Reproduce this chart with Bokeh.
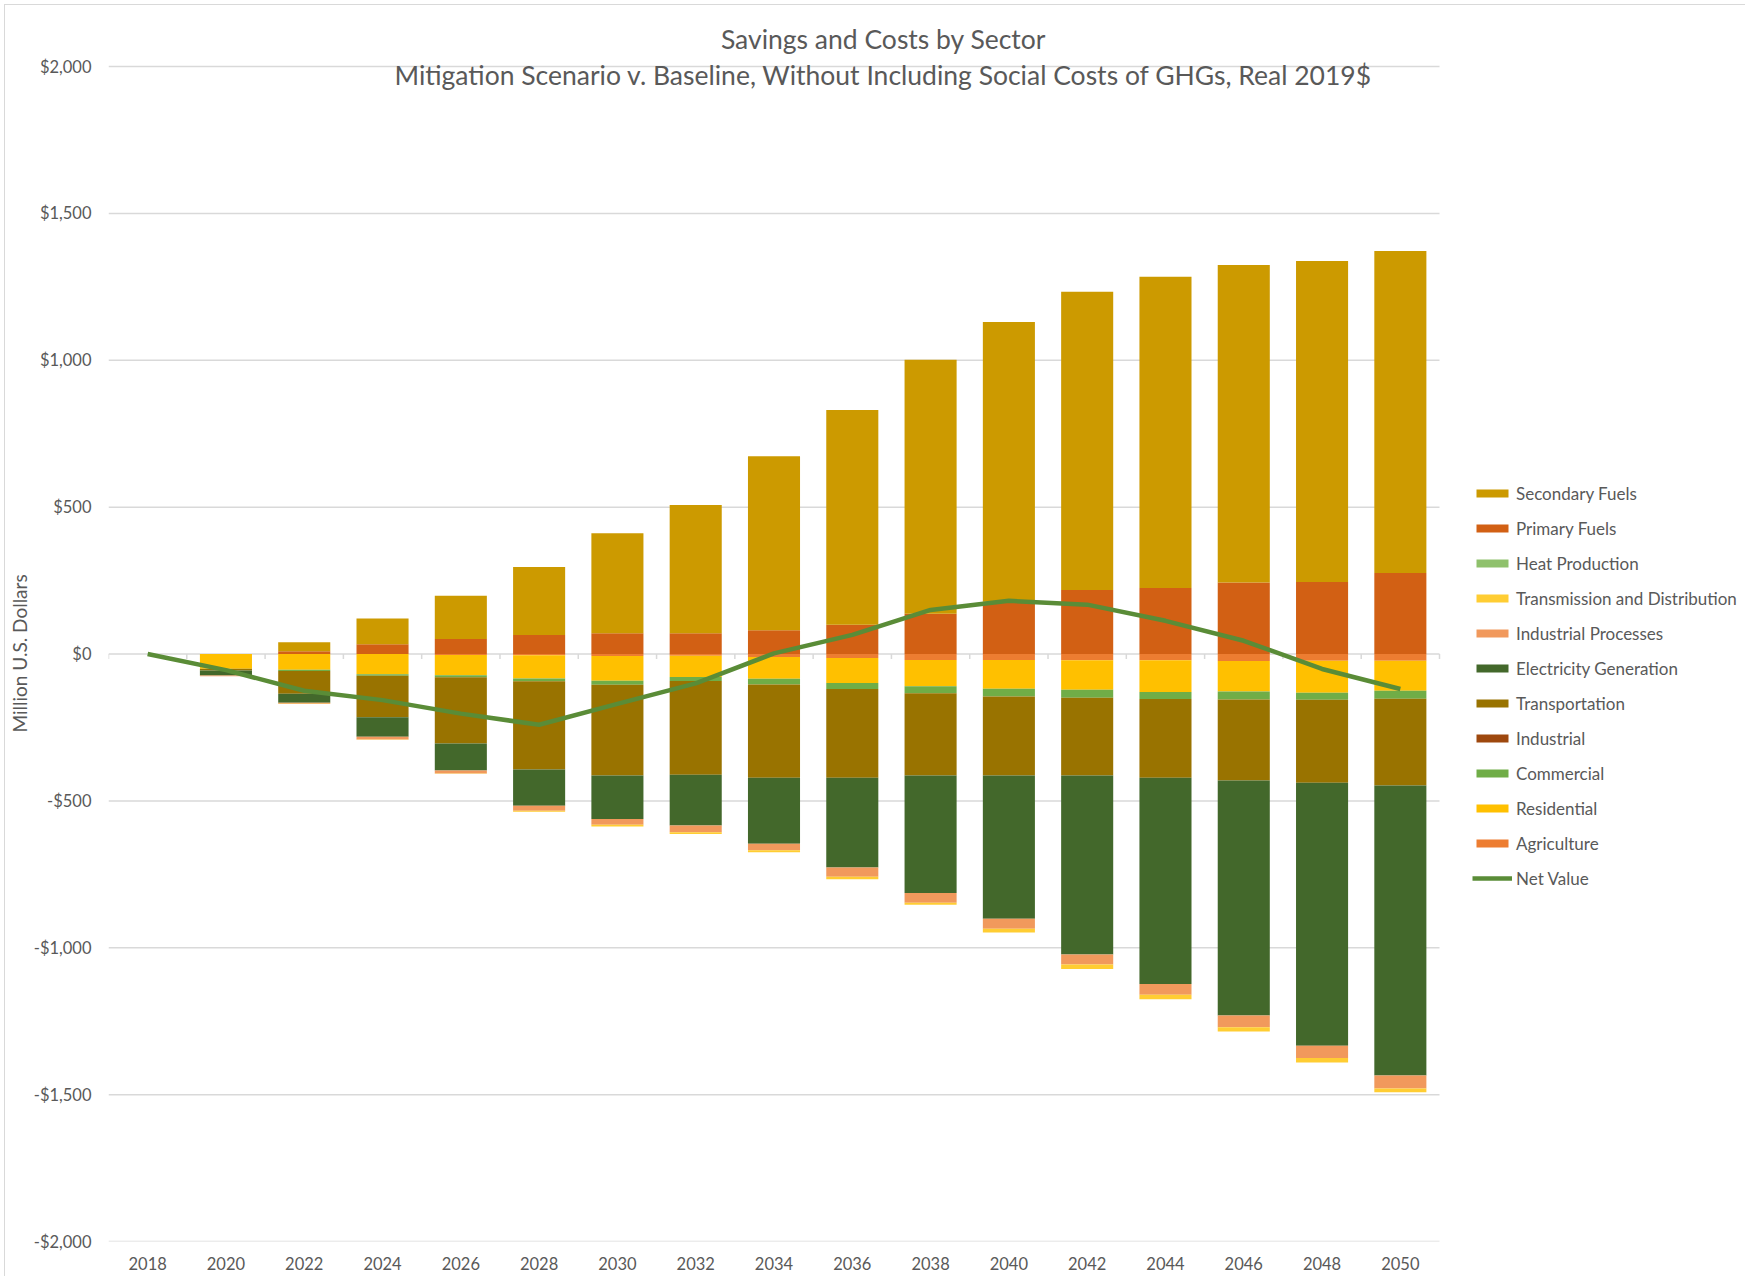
from bokeh.plotting import figure
from bokeh.models import (Range1d, FixedTicker, NumeralTickFormatter, Legend, LegendItem,
                          Label, Title, ColumnDataSource)
from bokeh.embed import file_html
from bokeh.resources import INLINE

# ---------------- data (million US$, real 2019$) ----------------
years = [2018, 2020, 2022, 2024, 2026, 2028, 2030, 2032, 2034,
         2036, 2038, 2040, 2042, 2044, 2046, 2048, 2050]

secondary_fuels = [0, 0, 31, 88, 147, 231, 340, 436, 592, 731, 865, 952, 1015, 1059, 1081, 1093, 1096]
primary_fuels = [0, 0, 9, 33, 51, 65, 71, 71, 81, 100, 137, 178, 218, 225, 243, 245, 276]
heat_production = [0] * 17
transmission_distribution = [0, 0, -1, -1, -1, -3, -6, -6, -7, -9, -7, -13, -15, -15, -14, -16, -13]
industrial_processes = [0, -3, -3, -9, -10, -17, -19, -23, -22, -31, -33, -34, -34, -37, -40, -41, -44]
electricity_generation = [0, -17, -31, -67, -92, -124, -148, -173, -225, -306, -400, -487, -609, -702, -800, -896, -987]
transportation = [0, -6, -77, -141, -226, -300, -309, -319, -317, -302, -280, -269, -265, -268, -276, -282, -296]
industrial = [0] * 17
commercial = [0, 0, -4, -5, -7, -10, -14, -14, -20, -20, -24, -27, -27, -24, -27, -24, -27]
residential = [0, -50, -54, -69, -69, -79, -84, -72, -74, -85, -90, -98, -101, -108, -104, -109, -102]
agriculture = [0, 0, 0, 0, -3, -4, -7, -6, -10, -14, -20, -20, -21, -21, -24, -23, -23]
net_value = [0, -55, -125, -157, -203, -241, -170, -100, 2, 65, 150, 181, 168, 113, 45, -51, -119]

y_ticks = [-2000, -1500, -1000, -500, 0, 500, 1000, 1500, 2000]

title_1 = "Savings and Costs by Sector"
title_2 = "Mitigation Scenario v. Baseline, Without Including Social Costs of GHGs, Real 2019$"
y_title = "Million U.S. Dollars"

series_names = ["Secondary Fuels", "Primary Fuels", "Heat Production", "Transmission and Distribution",
                "Industrial Processes", "Electricity Generation", "Transportation", "Industrial",
                "Commercial", "Residential", "Agriculture"]
colors = {
    "Secondary Fuels": "#CC9A00",
    "Primary Fuels": "#D26014",
    "Heat Production": "#8FC16C",
    "Transmission and Distribution": "#FFCD33",
    "Industrial Processes": "#F1995C",
    "Electricity Generation": "#43682B",
    "Transportation": "#997300",
    "Industrial": "#9E480E",
    "Commercial": "#70AD47",
    "Residential": "#FFC000",
    "Agriculture": "#ED7D31",
}
NET_COLOR = "#5A8C37"
TEXT = "#595959"
GRID = "#D9D9D9"
FONT = "Lato"

# ---------------- layout (pixels) ----------------
W, H = 1745, 1276
LEFT = 108            # plot area left edge
RIGHT_EDGE = 1439     # plot area right edge (end of gridlines)
Y_TOP_PX = 66         # pixel row of the top gridline
Y_BOT_PX = 1241       # pixel row of the bottom gridline (frame bottom)
FW = RIGHT_EDGE - LEFT
X0, X1 = years[0] - 1, years[-1] + 1
Y0, Y1 = y_ticks[0], y_ticks[-1]
px_per_y = (Y_BOT_PX - Y_TOP_PX) / (Y1 - Y0)
px_per_x = FW / (X1 - X0)
# the frame reaches the top and right canvas edges so titles and legend sit inside it
y_end = Y1 + Y_TOP_PX / px_per_y
x_end = X1 + (W - RIGHT_EDGE) / px_per_x

p = figure(width=W, height=H, x_range=Range1d(X0, x_end), y_range=Range1d(Y0, y_end),
           output_backend="svg", toolbar_location=None,
           min_border_left=LEFT, min_border_top=0,
           min_border_right=0, min_border_bottom=H - Y_BOT_PX)
p.outline_line_color = None
p.background_fill_color = None
p.border_fill_color = None
p.styles = {
    "background": ("linear-gradient(#D9D9D9,#D9D9D9) 4px 4px / 100% 1px no-repeat, "
                   "linear-gradient(#D9D9D9,#D9D9D9) 4px 4px / 1px 100% no-repeat, white"),
}

# horizontal gridlines limited to the plot area
p.xgrid.visible = False
p.ygrid.visible = False
p.segment(x0=[X0] * len(y_ticks), x1=[X1] * len(y_ticks), y0=y_ticks, y1=y_ticks,
          line_color=GRID, line_width=1.5)

p.xaxis.ticker = FixedTicker(ticks=years)
p.xaxis.bounds = (X0, X1)
p.xaxis.axis_line_color = None
p.xaxis.major_tick_line_color = None
p.xaxis.minor_tick_line_color = None
p.xaxis.major_tick_out = 0
p.xaxis.major_tick_in = 0
p.xaxis.major_label_text_font = FONT
p.xaxis.major_label_text_font_size = "16.5px"
p.xaxis.major_label_text_color = TEXT
p.xaxis.major_label_standoff = 15

p.yaxis.ticker = FixedTicker(ticks=y_ticks)
p.yaxis.bounds = (Y0, Y1)
p.yaxis.formatter = NumeralTickFormatter(format="$0,0")
p.yaxis.axis_line_color = None
p.yaxis.major_tick_line_color = None
p.yaxis.minor_tick_line_color = None
p.yaxis.major_tick_out = 0
p.yaxis.major_tick_in = 0
p.yaxis.major_label_text_font = FONT
p.yaxis.major_label_text_font_size = "16.5px"
p.yaxis.major_label_text_color = TEXT
p.yaxis.major_label_standoff = 17

# y-axis title, centred on the $0 line (frame extends above the plot area)
Y_LABEL_LEN = 157
zero_px = Y_TOP_PX + (Y1 - 0) * px_per_y
ytitle = Title(text=y_title, align="left", offset=Y_BOT_PX - (zero_px + Y_LABEL_LEN / 2),
               standoff=0, text_font=FONT, text_font_size="19px", text_font_style="normal",
               text_color=TEXT)
p.add_layout(ytitle, "left")

# ---------------- bars ----------------
src = ColumnDataSource(dict(x=years,
                            sec=secondary_fuels, pri=primary_fuels, heat=heat_production,
                            td=transmission_distribution, ip=industrial_processes,
                            elec=electricity_generation, trans=transportation, ind=industrial,
                            com=commercial, res=residential, agri=agriculture, net=net_value))
BAR_W = 2 * 0.665

pos_fields = ["pri", "sec"]
pos_names = ["Primary Fuels", "Secondary Fuels"]
pos_r = p.vbar_stack(pos_fields, x="x", width=BAR_W, source=src,
                     color=[colors[n] for n in pos_names], line_color=None)

neg_fields = ["agri", "res", "com", "ind", "trans", "elec", "ip", "td", "heat"]
neg_names = ["Agriculture", "Residential", "Commercial", "Industrial", "Transportation",
             "Electricity Generation", "Industrial Processes", "Transmission and Distribution",
             "Heat Production"]
neg_r = p.vbar_stack(neg_fields, x="x", width=BAR_W, source=src,
                     color=[colors[n] for n in neg_names], line_color=None)

renderers = dict(zip(pos_names, pos_r))
renderers.update(dict(zip(neg_names, neg_r)))

# category tick marks hanging from the zero axis
bounds = [y - 1 for y in years] + [years[-1] + 1]
p.segment(x0=bounds, x1=bounds, y0=[0] * len(bounds), y1=[-5 / px_per_y] * len(bounds),
          line_color=GRID, line_width=1.5)

net_r = p.line("x", "net", source=src, line_color=NET_COLOR, line_width=4.5)

# ---------------- legend ----------------
items = [LegendItem(label=n, renderers=[renderers[n]]) for n in series_names]
items.append(LegendItem(label="Net Value", renderers=[net_r]))
ROW_H, GAP = 21, 14
leg_h = len(items) * ROW_H + (len(items) - 1) * GAP
first_row_center = 493
leg_bottom = first_row_center - ROW_H / 2 + leg_h
legend = Legend(items=items, location=(1472 - LEFT, Y_BOT_PX - leg_bottom),
                orientation="vertical",
                glyph_width=40, glyph_height=10, label_height=ROW_H, spacing=GAP,
                label_standoff=4, padding=0, margin=0,
                border_line_color=None, background_fill_alpha=0,
                label_text_font=FONT, label_text_font_size="17px", label_text_color=TEXT)
p.add_layout(legend)

# ---------------- titles ----------------
title_x = X0 + (883 - LEFT) / px_per_x
t1 = Label(x=title_x, y=Y1 + (Y_TOP_PX - 38.5) / px_per_y, text=title_1,
           text_align="center", text_baseline="middle", text_font=FONT,
           text_font_size="26.5px", text_color=TEXT)
t2 = Label(x=title_x, y=Y1 - (74 - Y_TOP_PX) / px_per_y, text=title_2,
           text_align="center", text_baseline="middle", text_font=FONT,
           text_font_size="26.5px", text_color=TEXT)
p.add_layout(t1)
p.add_layout(t2)

open("out.html", "w").write(file_html(p, INLINE))
